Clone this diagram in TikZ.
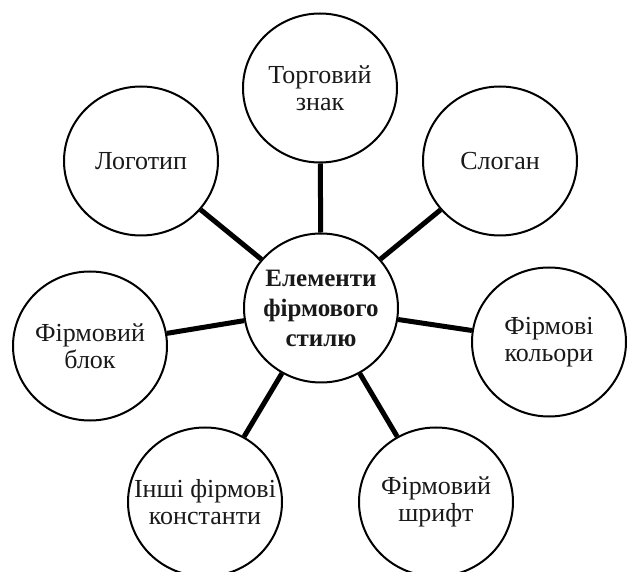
\documentclass[tikz,border=0pt]{standalone}
\usepackage{fontspec}
\setmainfont{Liberation Serif}
\usetikzlibrary{shapes.geometric}
\begin{document}
\begin{tikzpicture}[x=1pt,y=-1pt,
  bubble/.style={ellipse, draw=black, line width=2pt, fill=white,
    minimum width=154pt, minimum height=149pt, inner xsep=-30pt, inner ysep=0pt,
    align=center, font=\fontsize{26}{27}\selectfont, text=black!90},
  hub/.style={bubble, font=\fontsize{25}{30}\selectfont\bfseries},
  link/.style={line width=5pt, black}]
\useasboundingbox (0,0) rectangle (630,572);
\clip (0,0) rectangle (630,572);
\node[hub] (c) at (321,308) {Елементи\\фірмового\\стилю};
\node[bubble] (tz) at (320,88) {Торговий\\знак};
\node[bubble] (lg) at (141,161) {Логотип};
\node[bubble] (sl) at (500,161) {Слоган};
\node[bubble] (fb) at (90,346) {Фірмовий\\блок};
\node[bubble] (fk) at (549,342) {Фірмові\\кольори};
\node[bubble] (ik) at (205,502) {Інші фірмові\\константи};
\node[bubble] (fs) at (436,502) {Фірмовий\\шрифт};
\foreach \n in {tz,lg,sl,fb,fk,ik,fs} \draw[link] (c) -- (\n);
\end{tikzpicture}
\end{document}
